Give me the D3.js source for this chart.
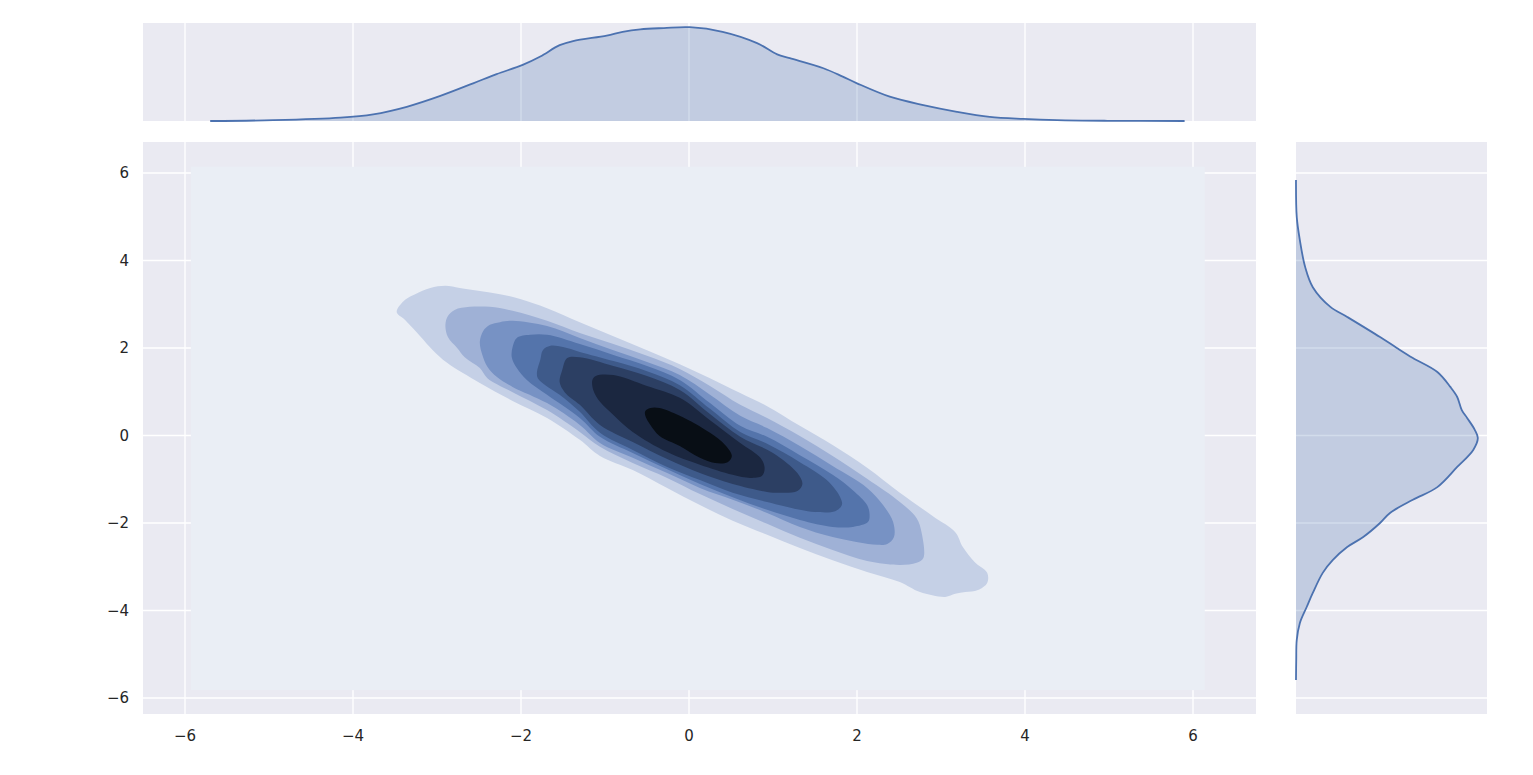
<!DOCTYPE html>
<html>
<head>
<meta charset="utf-8">
<script src="https://cdn.jsdelivr.net/npm/d3@7"></script>
<style>
  html, body { margin: 0; padding: 0; background: #ffffff; }
  svg { display: block; }
  text { font-family: "DejaVu Sans", sans-serif; fill: #262626; }
</style>
</head>
<body>
<div id="chart"></div>
<script>
// ---------------- data ----------------
const xTicks = [-6, -4, -2, 0, 2, 4, 6];
const yTicks = [-6, -4, -2, 0, 2, 4, 6];

// extent of the KDE evaluation grid (lowest filled level)
const kdeGridX = [-5.93, 6.14];
const kdeGridY = [-5.82, 6.14];

// filled contour colours, lowest level first
const levelColors = ["#eaeef5", "#c5d0e6", "#9fb1d6", "#7792c4", "#5474ab",
                     "#3e5a8a", "#2c3f63", "#1b2740", "#080e15"];

// contour outlines (x, y), level 1 .. 8
const level1 = [[-3.48,2.82],[-3.38,3.10],[-3.26,3.23],[-3.08,3.37],[-2.90,3.42],[-2.73,3.37],[-2.49,3.30],[-2.25,3.23],[-2.01,3.12],[-1.69,2.91],[-1.30,2.59],[-0.90,2.27],[-0.50,1.95],[-0.11,1.63],[0.25,1.31],[0.61,0.97],[0.93,0.67],[1.32,0.22],[1.71,-0.22],[2.12,-0.74],[2.51,-1.31],[2.90,-1.84],[3.17,-2.21],[3.26,-2.55],[3.40,-2.89],[3.55,-3.14],[3.55,-3.37],[3.44,-3.53],[3.29,-3.58],[3.17,-3.62],[3.05,-3.69],[2.75,-3.58],[2.51,-3.35],[2.12,-3.12],[1.71,-2.85],[1.32,-2.57],[0.93,-2.27],[0.52,-1.95],[0.13,-1.59],[-0.26,-1.20],[-0.67,-0.79],[-1.06,-0.47],[-1.30,-0.10],[-1.69,0.40],[-2.10,0.79],[-2.49,1.20],[-2.88,1.66],[-3.05,1.95],[-3.20,2.27],[-3.38,2.64]];
const level2 = [[-2.90,2.53],[-2.87,2.73],[-2.79,2.87],[-2.61,2.94],[-2.37,2.94],[-2.10,2.85],[-1.69,2.62],[-1.30,2.34],[-0.90,2.09],[-0.50,1.82],[-0.11,1.52],[0.25,1.13],[0.61,0.70],[0.93,0.40],[1.32,-0.01],[1.71,-0.47],[2.12,-0.99],[2.51,-1.52],[2.71,-1.89],[2.77,-2.23],[2.79,-2.80],[2.71,-2.91],[2.51,-2.96],[2.12,-2.87],[1.71,-2.62],[1.32,-2.34],[0.93,-2.02],[0.52,-1.68],[0.13,-1.34],[-0.26,-0.97],[-0.67,-0.63],[-1.06,-0.26],[-1.30,0.08],[-1.69,0.58],[-2.10,0.99],[-2.40,1.31],[-2.49,1.54],[-2.67,1.79],[-2.76,2.00],[-2.87,2.25]];
const level3 = [[-2.49,2.14],[-2.45,2.39],[-2.37,2.53],[-2.25,2.59],[-2.10,2.62],[-1.69,2.50],[-1.30,2.23],[-0.90,1.95],[-0.50,1.68],[-0.11,1.38],[0.25,0.93],[0.61,0.45],[0.93,0.17],[1.32,-0.24],[1.71,-0.70],[2.12,-1.20],[2.31,-1.59],[2.43,-1.98],[2.44,-2.32],[2.36,-2.48],[2.24,-2.50],[1.71,-2.32],[1.32,-2.09],[0.93,-1.77],[0.52,-1.47],[0.13,-1.20],[-0.26,-0.86],[-0.67,-0.51],[-1.06,-0.17],[-1.30,0.24],[-1.69,0.74],[-2.10,1.11],[-2.29,1.34],[-2.40,1.57],[-2.46,1.84]];
const level4 = [[-2.11,1.79],[-2.10,2.02],[-2.05,2.23],[-1.89,2.30],[-1.69,2.30],[-1.30,2.09],[-0.90,1.84],[-0.50,1.59],[-0.11,1.27],[0.25,0.74],[0.61,0.22],[0.93,-0.03],[1.32,-0.45],[1.71,-0.90],[1.95,-1.25],[2.12,-1.59],[2.15,-1.82],[2.13,-1.98],[1.95,-2.09],[1.71,-2.09],[1.32,-1.93],[0.93,-1.70],[0.52,-1.41],[0.13,-1.11],[-0.26,-0.77],[-0.67,-0.40],[-1.06,-0.03],[-1.30,0.40],[-1.69,0.93],[-1.93,1.27],[-2.05,1.54]];
const level5 = [[-1.81,1.45],[-1.77,1.73],[-1.74,1.95],[-1.65,2.05],[-1.50,2.02],[-1.30,1.91],[-0.90,1.70],[-0.50,1.47],[-0.11,1.15],[0.25,0.61],[0.61,0.08],[0.93,-0.19],[1.32,-0.61],[1.64,-1.02],[1.80,-1.41],[1.82,-1.59],[1.74,-1.73],[1.50,-1.75],[1.32,-1.70],[0.93,-1.52],[0.52,-1.31],[0.13,-1.02],[-0.26,-0.72],[-0.67,-0.33],[-1.06,0.06],[-1.30,0.54],[-1.54,0.93],[-1.71,1.15],[-1.80,1.31]];
const level6 = [[-1.54,1.22],[-1.51,1.49],[-1.45,1.77],[-1.30,1.79],[-0.90,1.59],[-0.50,1.36],[-0.11,1.04],[0.25,0.49],[0.61,-0.03],[1.00,-0.40],[1.29,-0.86],[1.35,-1.11],[1.29,-1.27],[1.08,-1.31],[0.93,-1.29],[0.52,-1.11],[0.13,-0.86],[-0.26,-0.54],[-0.67,-0.15],[-1.06,0.24],[-1.30,0.70],[-1.48,0.99]];
const level7 = [[-1.15,1.27],[-1.11,1.36],[-0.90,1.38],[-0.50,1.13],[-0.11,0.86],[0.25,0.35],[0.61,-0.17],[0.85,-0.51],[0.90,-0.74],[0.87,-0.92],[0.73,-0.97],[0.52,-0.90],[0.13,-0.67],[-0.26,-0.38],[-0.67,0.08],[-0.90,0.47],[-1.06,0.77],[-1.14,1.04]];
const level8 = [[-0.52,0.56],[-0.46,0.63],[-0.35,0.63],[-0.11,0.45],[0.25,0.06],[0.43,-0.22],[0.51,-0.47],[0.46,-0.61],[0.31,-0.63],[0.13,-0.51],[-0.11,-0.24],[-0.35,-0.01],[-0.46,0.24],[-0.52,0.45]];

// top marginal KDE (x, density)
const topX       = [-5.70,-4.95,-4.15,-3.76,-3.36,-2.96,-2.57,-2.29,-1.98,-1.77,-1.54,-1.38,-0.98,-0.79,-0.58,-0.30,0.01,0.40,0.81,1.05,1.20,1.60,1.83,2.00,2.39,2.79,3.19,3.58,3.98,4.38,4.98,5.90];
const topDensity = [0.000,0.002,0.008,0.016,0.034,0.060,0.090,0.112,0.134,0.154,0.181,0.191,0.204,0.213,0.219,0.222,0.224,0.213,0.186,0.159,0.150,0.126,0.106,0.090,0.058,0.038,0.022,0.010,0.005,0.002,0.0005,0.000];

// right marginal KDE (y, density)
const rightY       = [5.84,4.99,4.47,3.85,3.39,2.94,2.71,2.25,2.00,1.77,1.45,1.11,0.88,0.58,0.40,0.13,-0.06,-0.33,-0.72,-1.18,-1.47,-1.77,-2.00,-2.32,-2.55,-2.85,-3.14,-3.60,-3.92,-4.29,-4.67,-5.13,-5.59];
const rightDensity = [0.000,0.001,0.005,0.012,0.022,0.045,0.067,0.110,0.132,0.153,0.185,0.202,0.211,0.217,0.224,0.234,0.238,0.232,0.211,0.185,0.153,0.123,0.110,0.088,0.067,0.048,0.035,0.022,0.014,0.005,0.001,0.0003,0.000];

// ---------------- drawing ----------------
const W = 1533, H = 775;
const BG = "#eaeaf2", LINE = "#4c72b0", FILL = "#4c72b0";

const svg = d3.select("#chart").append("svg").attr("width", W).attr("height", H);

const main = {left: 143, right: 1256, top: 142, bottom: 714};
const topM = {top: 23, bottom: 121};
const rightM = {left: 1296, right: 1487};

const x = d3.scaleLinear().domain([-6.5, 6.75]).range([main.left, main.right]);
const y = d3.scaleLinear().domain([-6.366, 6.708]).range([main.bottom, main.top]);
const yTop = d3.scaleLinear().domain([0, 0.234]).range([topM.bottom, topM.top]);
const xRight = d3.scaleLinear().domain([0, 0.25]).range([rightM.left, rightM.right]);

// ---- main joint axes ----
const gMain = svg.append("g");
gMain.append("rect").attr("x", main.left).attr("y", main.top)
  .attr("width", main.right - main.left).attr("height", main.bottom - main.top).attr("fill", BG);

const clipMain = svg.append("clipPath").attr("id", "clipMain");
clipMain.append("rect").attr("x", main.left).attr("y", main.top)
  .attr("width", main.right - main.left).attr("height", main.bottom - main.top);

gMain.append("g").selectAll("line").data(xTicks).join("line")
  .attr("x1", d => x(d)).attr("x2", d => x(d)).attr("y1", main.top).attr("y2", main.bottom)
  .attr("stroke", "#ffffff").attr("stroke-width", 1.3);
gMain.append("g").selectAll("line").data(yTicks).join("line")
  .attr("y1", d => y(d)).attr("y2", d => y(d)).attr("x1", main.left).attr("x2", main.right)
  .attr("stroke", "#ffffff").attr("stroke-width", 1.3);

const gCont = gMain.append("g").attr("clip-path", "url(#clipMain)");
gCont.append("rect")
  .attr("x", x(kdeGridX[0])).attr("y", y(kdeGridY[1]))
  .attr("width", x(kdeGridX[1]) - x(kdeGridX[0]))
  .attr("height", y(kdeGridY[0]) - y(kdeGridY[1]))
  .attr("fill", levelColors[0]);

const levels = [level1, level2, level3, level4, level5, level6, level7, level8];
const contourLine = d3.line().x(d => x(d[0])).y(d => y(d[1]))
  .curve(d3.curveCatmullRomClosed.alpha(0.5));
gCont.selectAll("path.lvl").data(levels).join("path")
  .attr("class", "lvl")
  .attr("d", d => contourLine(d))
  .attr("fill", (d, i) => levelColors[i + 1]);

// tick labels
const fmt = v => (v < 0 ? "\u2212" + Math.abs(v) : String(v));
svg.append("g").selectAll("text").data(xTicks).join("text")
  .attr("x", d => x(d)).attr("y", 741).attr("text-anchor", "middle")
  .style("font-size", "15px").text(fmt);
svg.append("g").selectAll("text").data(yTicks).join("text")
  .attr("x", 129).attr("y", d => y(d) + 5.5).attr("text-anchor", "end")
  .style("font-size", "15px").text(fmt);

// ---- top marginal ----
const gTop = svg.append("g");
gTop.append("rect").attr("x", main.left).attr("y", topM.top)
  .attr("width", main.right - main.left).attr("height", topM.bottom - topM.top).attr("fill", BG);
gTop.append("g").selectAll("line").data(xTicks).join("line")
  .attr("x1", d => x(d)).attr("x2", d => x(d)).attr("y1", topM.top).attr("y2", topM.bottom)
  .attr("stroke", "#ffffff").attr("stroke-width", 1.3);
const topData = topX.map((v, i) => [v, topDensity[i]]);
gTop.append("path").datum(topData)
  .attr("d", d3.area().x(d => x(d[0])).y0(yTop(0)).y1(d => yTop(d[1])).curve(d3.curveCatmullRom.alpha(0.5)))
  .attr("fill", FILL).attr("fill-opacity", 0.25);
gTop.append("path").datum(topData)
  .attr("d", d3.line().x(d => x(d[0])).y(d => yTop(d[1])).curve(d3.curveCatmullRom.alpha(0.5)))
  .attr("fill", "none").attr("stroke", LINE).attr("stroke-width", 1.8);

// ---- right marginal ----
const gRight = svg.append("g");
gRight.append("rect").attr("x", rightM.left).attr("y", main.top)
  .attr("width", rightM.right - rightM.left).attr("height", main.bottom - main.top).attr("fill", BG);
gRight.append("g").selectAll("line").data(yTicks).join("line")
  .attr("y1", d => y(d)).attr("y2", d => y(d)).attr("x1", rightM.left).attr("x2", rightM.right)
  .attr("stroke", "#ffffff").attr("stroke-width", 1.3);
const rightData = rightY.map((v, i) => [v, rightDensity[i]]);
gRight.append("path").datum(rightData)
  .attr("d", d3.area().y(d => y(d[0])).x0(xRight(0)).x1(d => xRight(d[1])).curve(d3.curveCatmullRom.alpha(0.5)))
  .attr("fill", FILL).attr("fill-opacity", 0.25);
gRight.append("path").datum(rightData)
  .attr("d", d3.line().y(d => y(d[0])).x(d => xRight(d[1])).curve(d3.curveCatmullRom.alpha(0.5)))
  .attr("fill", "none").attr("stroke", LINE).attr("stroke-width", 1.8);
</script>
</body>
</html>
